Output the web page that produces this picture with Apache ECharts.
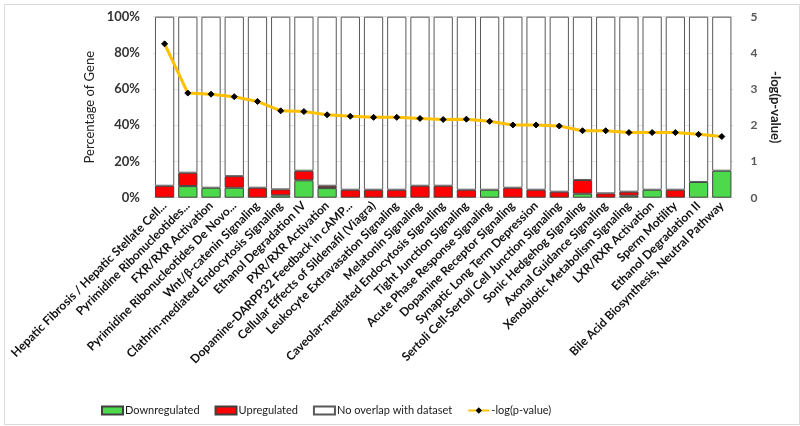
<!DOCTYPE html>
<html><head><meta charset="utf-8">
<script src="https://cdn.jsdelivr.net/npm/echarts@6/dist/echarts.min.js"></script>
<style>html,body{margin:0;padding:0;background:#fff}#c{width:800px;height:426px}</style>
</head><body><div id="c"></div>
<script>
const categories = [
  'Hepatic Fibrosis / Hepatic Stellate Cell...',
  'Pyrimidine Ribonucleotides...',
  'FXR/RXR Activation',
  'Pyrimidine Ribonucleotides De Novo...',
  'Wnt/β-catenin Signaling',
  'Clathrin-mediated Endocytosis Signaling',
  'Ethanol Degradation IV',
  'PXR/RXR Activation',
  'Dopamine-DARPP32 Feedback in cAMP...',
  'Cellular Effects of Sildenafil (Viagra)',
  'Leukocyte Extravasation Signaling',
  'Melatonin Signaling',
  'Caveolar-mediated Endocytosis Signaling',
  'Tight Junction Signaling',
  'Acute Phase Response Signaling',
  'Dopamine Receptor Signaling',
  'Synaptic Long Term Depression',
  'Sertoli Cell-Sertoli Cell Junction Signaling',
  'Sonic Hedgehog Signaling',
  'Axonal Guidance Signaling',
  'Xenobiotic Metabolism Signaling',
  'LXR/RXR Activation',
  'Sperm Motility',
  'Ethanol Degradation II',
  'Bile Acid Biosynthesis, Neutral Pathway'
];
const downregulated = [0, 6.4, 5.5, 5.5, 0, 1.3, 9.6, 5.3, 0, 0, 0, 0, 0, 0, 4.4, 0, 0, 0, 2.2, 0, 1.1, 4.4, 0, 8.7, 14.9];
const upregulated   = [6.6, 7.4, 0, 6.4, 5.5, 3.3, 5.3, 1.3, 4.4, 4.4, 4.4, 6.6, 6.6, 4.4, 0, 5.5, 4.4, 3.3, 7.6, 2.4, 2.2, 0, 4.4, 0, 0];
const noOverlap = downregulated.map((d, i) => +(100 - d - upregulated[i]).toFixed(1));
const negLogP = [4.25, 2.89, 2.86, 2.79, 2.66, 2.40, 2.38, 2.29, 2.25, 2.22, 2.22, 2.19, 2.16, 2.17, 2.11, 2.01, 2.01, 1.98, 1.85, 1.85, 1.80, 1.80, 1.80, 1.75, 1.69];
const pctTicks = [0, 20, 40, 60, 80, 100];

const FONT = 'Lato';
const hideZero = arr => arr.map(v => v === 0 ? '-' : v);
const chart = echarts.init(document.getElementById('c'), null, {renderer: 'canvas'});
const barBorder = {borderColor: '#404040', borderWidth: 1};
chart.setOption({
  backgroundColor: '#ffffff',
  animation: false,
  textStyle: {fontFamily: FONT},
  graphic: [{
    type: 'rect', left: 2, top: 2, shape: {width: 795, height: 420},
    style: {fill: 'none', stroke: '#d9d9d9', lineWidth: 1}, silent: true, z: -1
  }],
  grid: {left: 153, right: 66.6, top: 16.7, bottom: 228.3, containLabel: false},
  legend: {
    left: 96, top: 400, itemGap: 15, itemWidth: 21, itemHeight: 8,
    textStyle: {fontFamily: FONT, fontSize: 11, color: '#1a1a1a', padding: [0, 0, 0, -3]},
    data: [
      {name: 'Downregulated', icon: 'rect'},
      {name: 'Upregulated', icon: 'rect'},
      {name: 'No overlap with dataset', icon: 'rect'},
      {name: '-log(p-value)'}
    ]
  },
  xAxis: {
    type: 'category', data: categories,
    axisLine: {show: false}, axisTick: {show: false},
    axisLabel: {interval: 0, rotate: 45, fontFamily: FONT, fontSize: 12, fontWeight: 'bold', color: '#111', margin: 6}
  },
  yAxis: [{
    type: 'value', min: 0, max: 100, interval: 20,
    name: 'Percentage of Gene', nameLocation: 'middle', nameGap: 52,
    nameTextStyle: {fontFamily: FONT, fontSize: 13, color: '#222'},
    axisLine: {show: false}, axisTick: {show: false},
    axisLabel: {formatter: v => pctTicks.includes(v) ? v + '%' : '', fontFamily: FONT, fontSize: 13, fontWeight: 'bold', color: '#333', margin: 13},
    splitLine: {lineStyle: {color: '#e3e3e3'}}
  }, {
    type: 'value', min: 0, max: 5, interval: 1, position: 'right',
    name: '-log(p-value)', nameLocation: 'middle', nameGap: 33, nameRotate: -90,
    nameTextStyle: {fontFamily: FONT, fontSize: 13, fontWeight: 'bold', color: '#222'},
    axisLine: {show: false}, axisTick: {show: false},
    axisLabel: {fontFamily: FONT, fontSize: 12, fontWeight: 'bold', color: '#595959', margin: 17},
    splitLine: {show: false}
  }],
  series: [
    {name: 'Downregulated', type: 'bar', stack: 'g', data: hideZero(downregulated), barCategoryGap: '17%',
      itemStyle: Object.assign({color: '#4cd94c'}, barBorder)},
    {name: 'Upregulated', type: 'bar', stack: 'g', data: hideZero(upregulated),
      itemStyle: Object.assign({color: '#ff0000'}, barBorder)},
    {name: 'No overlap with dataset', type: 'bar', stack: 'g', data: noOverlap,
      itemStyle: Object.assign({color: '#ffffff'}, barBorder, {borderColor: '#595959'})},
    {name: '-log(p-value)', type: 'line', yAxisIndex: 1, data: negLogP,
      symbol: 'diamond', symbolSize: 6,
      lineStyle: {color: '#ffc000', width: 3},
      itemStyle: {color: '#000', borderColor: '#000'}, z: 5}
  ]
});
</script></body></html>
